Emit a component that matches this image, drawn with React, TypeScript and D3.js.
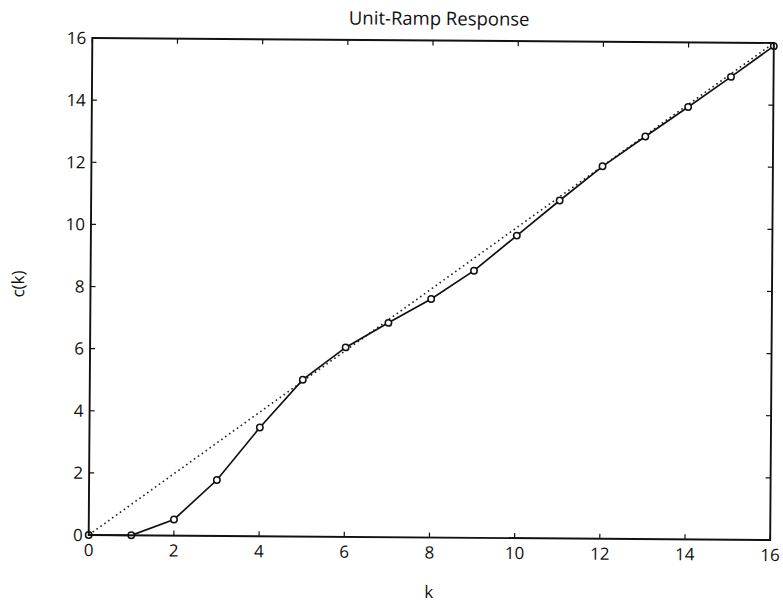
import React from "react";
import * as d3 from "d3";

const kValues = [0, 1, 2, 3, 4, 5, 6, 7, 8, 9, 10, 11, 12, 13, 14, 15, 16];
const cValues = [0, 0, 0.52, 1.8, 3.5, 5.05, 6.1, 6.9, 7.68, 8.6, 9.74, 10.88, 11.99, 12.96, 13.92, 14.9, 15.9];
const rampK = [0, 16];
const rampValues = [0, 16];
const xTicks = [0, 2, 4, 6, 8, 10, 12, 14, 16];
const yTicks = [0, 2, 4, 6, 8, 10, 12, 14, 16];
const titleText = "Unit-Ramp Response";
const xLabel = "k";
const yLabel = "c(k)";

const W = 783;
const H = 604;
const M = { left: 90.5, right: 772, top: 40.5, bottom: 537.5 };
const FONT = "'Open Sans', 'DejaVu Sans', sans-serif";

export default function App() {
  const x = d3.scaleLinear().domain([0, 16]).range([M.left, M.right]);
  const y = d3.scaleLinear().domain([0, 16]).range([M.bottom, M.top]);
  const line = d3
    .line<number>()
    .x((_, i) => x(kValues[i]))
    .y((d) => y(d));
  const ramp = d3
    .line<number>()
    .x((_, i) => x(rampK[i]))
    .y((d) => y(d));
  const cx = (M.left + M.right) / 2;
  const cy = (M.top + M.bottom) / 2;
  const tick = 5;
  return (
    <svg
      width={W}
      height={H}
      style={{ position: "absolute", left: 0, top: 0, background: "#fff" }}
      fontFamily={FONT}
    >
      <rect x={0} y={0} width={W} height={H} fill="#fff" />
      <g transform={`rotate(0.42, ${cx}, ${cy})`}>
        <text x={cx + 6} y={25} textAnchor="middle" fontSize={18.5} fill="#111">
          {titleText}
        </text>
        <path
          d={ramp(rampValues) || ""}
          fill="none"
          stroke="#222"
          strokeWidth={1.6}
          strokeDasharray="1.6,3.2"
        />
        <path d={line(cValues) || ""} fill="none" stroke="#111" strokeWidth={1.7} />
        {cValues.map((v, i) => (
          <circle
            key={i}
            cx={x(kValues[i])}
            cy={y(v)}
            r={3.2}
            fill="#fff"
            stroke="#111"
            strokeWidth={1.5}
          />
        ))}
        <rect
          x={M.left}
          y={M.top}
          width={M.right - M.left}
          height={M.bottom - M.top}
          fill="none"
          stroke="#111"
          strokeWidth={1.9}
        />
        {xTicks.map((t) => (
          <g key={"x" + t}>
            <line x1={x(t)} x2={x(t)} y1={M.bottom} y2={M.bottom - tick} stroke="#111" strokeWidth={1.2} />
            <line x1={x(t)} x2={x(t)} y1={M.top} y2={M.top + tick} stroke="#111" strokeWidth={1.2} />
            <text x={x(t)} y={M.bottom + 21} textAnchor="middle" fontSize={17} fill="#111">
              {t}
            </text>
          </g>
        ))}
        {yTicks.map((t) => (
          <g key={"y" + t}>
            <line x1={M.left} x2={M.left + tick} y1={y(t)} y2={y(t)} stroke="#111" strokeWidth={1.2} />
            <line x1={M.right} x2={M.right - tick} y1={y(t)} y2={y(t)} stroke="#111" strokeWidth={1.2} />
            <text x={M.left - 6} y={y(t)} dy="0.36em" textAnchor="end" fontSize={17} fill="#111">
              {t}
            </text>
          </g>
        ))}
        <text x={431} y={598} textAnchor="middle" fontSize={17} fill="#111">
          {xLabel}
        </text>
        <text
          transform={`translate(24, 287) rotate(-90)`}
          textAnchor="middle"
          fontSize={17}
          fill="#111"
        >
          {yLabel}
        </text>
      </g>
    </svg>
  );
}
